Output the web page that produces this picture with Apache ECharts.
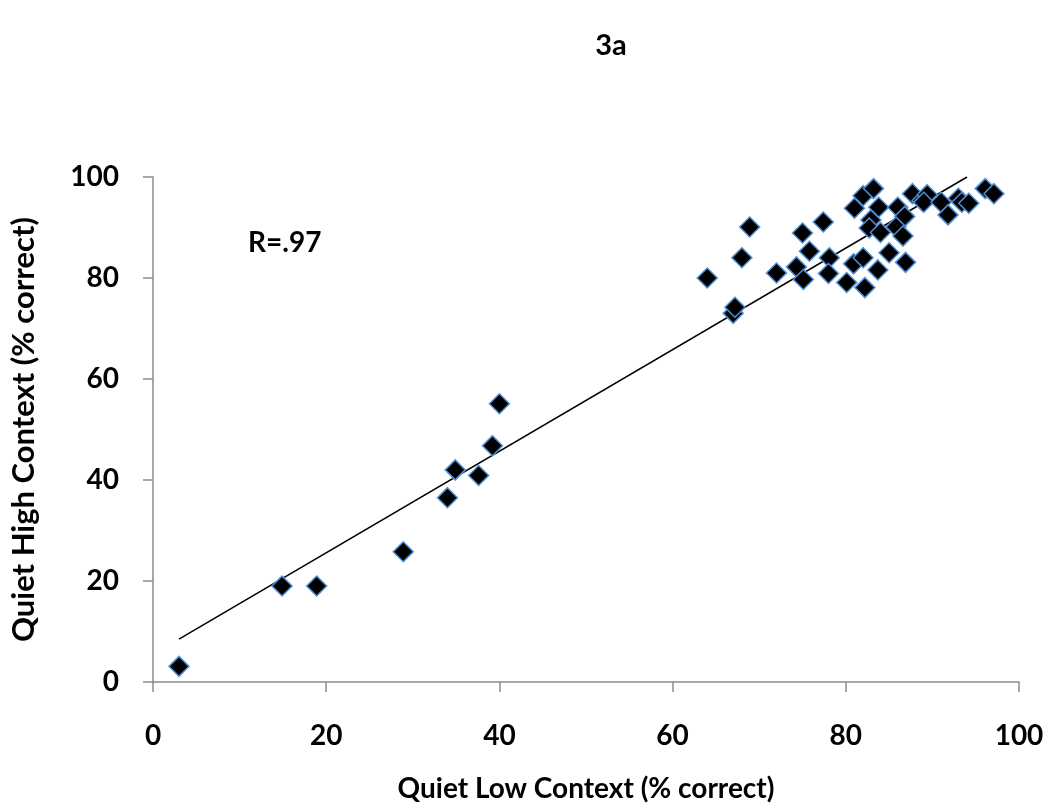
<!DOCTYPE html>
<html>
<head>
<meta charset="utf-8">
<script src="https://cdn.jsdelivr.net/npm/echarts@6/dist/echarts.min.js"></script>
<style>html,body{margin:0;padding:0;background:#fff}#c{width:1050px;height:808px}</style>
</head>
<body>
<div id="c"></div>
<script>
const titleText = '3a';
const xTitle = 'Quiet Low Context (% correct)';
const yTitle = 'Quiet High Context (% correct)';
const rLabel = 'R=.97';
const lowContext = [3,14.9,18.9,28.9,34,34.9,37.6,39.2,40,
  64,67,67.2,68,68.9,72,74.3,75,75.8,75.1,77.4,78.1,78,80.1,80.9,82,82.2,83.7,85,86.9,
  81,82,83.2,83.8,82.9,82.7,84,86,87.7,88.8,86.8,85.8,86.6,89.4,89,91,91.8,93,93.4,94.2,96.1,97.1];
const highContext = [3.1,19,19,25.8,36.5,42,40.9,46.8,55.1,
  80,73,74.2,84,90.1,81,82.2,88.9,85.3,79.7,91.1,84,80.9,79.1,82.8,84,78.1,81.6,85,83.1,
  93.8,96.3,97.7,94,91.5,89.9,89,94,96.7,95.3,92.2,90.1,88.3,96.5,95,95,92.5,95.8,95,94.8,97.7,96.7];
const trendX = [3, 94];
const trendY = [8.5, 100];
const axisTicks = [0, 20, 40, 60, 80, 100];

const points = lowContext.map((x, i) => [x, highContext[i]]);
const trend = trendX.map((x, i) => [x, trendY[i]]);
const FONT = 'Lato, "Open Sans", sans-serif';

const chart = echarts.init(document.getElementById('c'));
const axisCommon = {
  type: 'value', min: axisTicks[0], max: axisTicks[axisTicks.length - 1], interval: 20,
  splitLine: { show: false },
  axisLine: { show: true, lineStyle: { color: '#8c8c8c', width: 1.5 } },
  axisTick: { show: true, length: 10, inside: false, lineStyle: { color: '#8c8c8c', width: 1.5 } },
  nameLocation: 'middle',
  nameTextStyle: { fontFamily: FONT, fontWeight: 'bold', fontSize: 28, color: '#000' },
  axisLabel: { fontFamily: FONT, fontWeight: 'bold', fontSize: 28, color: '#000' }
};
chart.setOption({
  animation: false,
  backgroundColor: '#fff',
  title: {
    text: titleText, left: 606, top: 26, textAlign: 'center',
    textStyle: { fontFamily: FONT, fontWeight: 'bold', fontSize: 29, color: '#000' }
  },
  grid: { left: 146, right: 31, top: 177, bottom: 123, containLabel: false },
  xAxis: Object.assign({}, axisCommon, {
    name: xTitle, nameGap: 93,
    axisLabel: Object.assign({}, axisCommon.axisLabel, { margin: 40 })
  }),
  yAxis: Object.assign({}, axisCommon, {
    name: yTitle, nameGap: 114,
    nameTextStyle: Object.assign({}, axisCommon.nameTextStyle, { fontSize: 31 }),
    axisLabel: Object.assign({}, axisCommon.axisLabel, { margin: 34 })
  }),
  graphic: [{
    type: 'text', left: 248, top: 229,
    style: { text: rLabel, fontFamily: FONT, fontWeight: 'bold', fontSize: 28, fill: '#000' }
  }],
  series: [
    {
      type: 'line', data: trend, symbol: 'none', silent: true, z: 1,
      lineStyle: { color: '#000', width: 1.5 }
    },
    {
      type: 'scatter', data: points, symbol: 'diamond', symbolSize: 20, z: 2,
      itemStyle: { color: '#000', opacity: 1, borderColor: '#4f8fd6', borderWidth: 1.5 }
    }
  ]
});
</script>
</body>
</html>
